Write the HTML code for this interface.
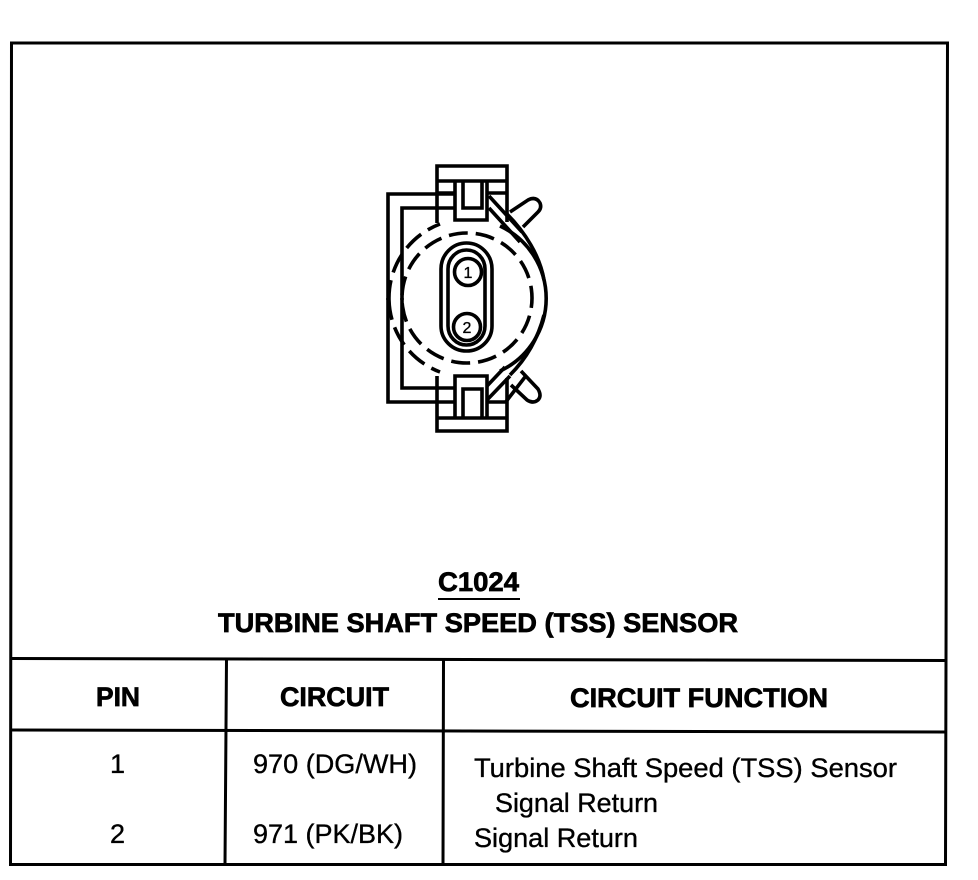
<!DOCTYPE html>
<html><head><meta charset="utf-8"><style>
html,body{margin:0;padding:0;background:#fff;width:978px;height:880px;overflow:hidden}
svg{display:block}
text{font-family:"Liberation Sans",sans-serif;fill:#000;font-size:27px;stroke:#000;stroke-width:.35px}
.b{font-weight:bold;stroke-width:.7px}
</style></head><body>
<svg width="978" height="880" viewBox="0 0 978 880" xmlns="http://www.w3.org/2000/svg">
<g fill="none" stroke="#000" stroke-width="3">
<path d="M11.500 43H947.500L945.500 864.500H10.500Z"/>
<path d="M11 658.500L946 660.500M11 730L946 732"/>
<path d="M226.500 659L225 864M443.500 660L443 864"/>
</g>
<g fill="none" stroke="#000" stroke-width="3.600">
<circle cx="467" cy="298" r="65" stroke-dasharray="19 8" transform="rotate(-8 467 298)"/>
<path d="M389 300A79 79 0 0 1 440 224" stroke-dasharray="20 8"/>
<path d="M389 300A79 79 0 0 0 440 372" stroke-dasharray="20 8"/>
<path d="M500 226A80 80 0 0 1 500 371"/>
<path d="M441 294V269A25.500 26 0 0 1 492 269V326A25.500 25 0 0 1 441 326Z"/>
<path d="M448 294V269A18.500 19 0 0 1 485 269V326A18.500 19 0 0 1 448 326Z"/>
<circle cx="468" cy="272" r="13.500"/>
<circle cx="467" cy="327" r="13.500"/>
<path d="M437 223V166H507V222M437 181H507"/>
<path d="M388 300V194H455M402 300V208H455"/>
<path d="M455 181V220H487V181M463 181V208H482V181"/>
<path d="M437 193H455M487 193H507"/>
<path d="M388 298V402H455M402 298V388H455"/>
<path d="M437 376V431H507V378M437 418H507"/>
<path d="M455 418V376H487V418M463 418V389H482V418"/>
<path d="M487 402H507"/>
<path d="M489 196L522 232M489 208L520 242M507 214C525 232 540 256 544 280"/>
<path d="M510 212L528 200Q536 196 540 203Q542 208 538 212L523 227"/>
<path d="M487 400L510 376M487 386L505 367M505 403L525 377"/>
<path d="M521 371L538 389Q542 396 538 400Q533 404 527 400L511 385"/>
<path d="M510 375Q535 350 544 315"/>
</g>
<text class="b" x="438" y="591" textLength="81" lengthAdjust="spacingAndGlyphs">C1024</text>
<rect x="438" y="598" width="82" height="2"/>
<text class="b" x="218" y="632" textLength="520" lengthAdjust="spacingAndGlyphs">TURBINE SHAFT SPEED (TSS) SENSOR</text>
<text class="b" x="96" y="706" textLength="44" lengthAdjust="spacingAndGlyphs">PIN</text>
<text class="b" x="280" y="706" textLength="109" lengthAdjust="spacingAndGlyphs">CIRCUIT</text>
<text class="b" x="570" y="707" textLength="258" lengthAdjust="spacingAndGlyphs">CIRCUIT FUNCTION</text>
<text x="110" y="773">1</text>
<text x="253" y="773" textLength="164" lengthAdjust="spacingAndGlyphs">970 (DG/WH)</text>
<text x="474" y="777" textLength="423" lengthAdjust="spacingAndGlyphs">Turbine Shaft Speed (TSS) Sensor</text>
<text x="495" y="812" textLength="163" lengthAdjust="spacingAndGlyphs">Signal Return</text>
<text x="110" y="843">2</text>
<text x="253" y="843" textLength="150" lengthAdjust="spacingAndGlyphs">971 (PK/BK)</text>
<text x="474" y="847" textLength="164" lengthAdjust="spacingAndGlyphs">Signal Return</text>
<text x="463.500" y="278" style="font-size:16px">1</text>
<text x="462.500" y="333" style="font-size:16px">2</text>
</svg>
</body></html>
